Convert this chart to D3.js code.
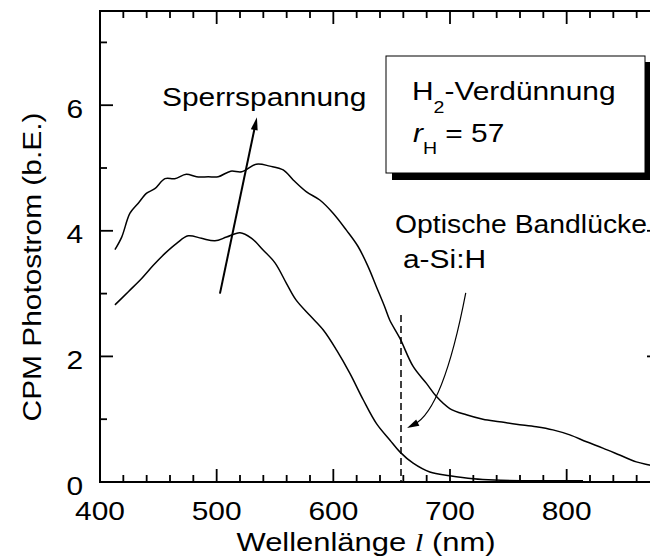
<!DOCTYPE html>
<html>
<head>
<meta charset="utf-8">
<script src="https://cdn.jsdelivr.net/npm/d3@7"></script>
<style>
  html, body { margin: 0; padding: 0; background: #fff; }
  svg { display: block; }
  text { font-family: "Liberation Sans", Arial, Helvetica, sans-serif; fill: #000; }
</style>
</head>
<body>
<svg id="chart" width="650" height="559"></svg>
<script>
// ---------------- data ----------------
const highBiasNm  = [412.8,418.6,425.7,432.8,440,447,455.7,464,474,482.8,492.8,501.3,512,521.4,534,545.6,557,565.6,577,588.4,599.8,611.2,621.2,629.8,636.9,644,648.3,657,668.4,679.8,688.4,699.8,714,728.2,742.5,756.8,773.9,788.2,802.7,817,831,845.4,859.7,871,878];
const highBiasVal = [3.70,3.90,4.28,4.44,4.60,4.67,4.83,4.83,4.90,4.86,4.86,4.86,4.95,4.94,5.06,5.03,4.97,4.81,4.62,4.49,4.28,4.01,3.75,3.43,3.11,2.79,2.58,2.29,1.84,1.57,1.36,1.17,1.07,1.00,0.96,0.92,0.88,0.83,0.75,0.64,0.54,0.43,0.32,0.27,0.24];
const lowBiasNm   = [412.8,424.3,435.7,445.7,455.7,465.7,475.6,487,498.5,508.5,520,530,540,550,559.9,568,580,591.4,602.8,614.2,625.6,637,648.4,657,668.4,682.7,699.8,720,738,780,814];
const lowBiasVal  = [2.82,3.03,3.24,3.45,3.64,3.80,3.92,3.88,3.84,3.90,3.97,3.88,3.69,3.49,3.16,2.90,2.65,2.42,2.10,1.73,1.31,0.93,0.67,0.48,0.30,0.16,0.10,0.05,0.03,0.02,0.02];

const xMajorTicks = [400, 500, 600, 700, 800];
const xMinorTicks = [420,440,460,480,520,540,560,580,620,640,660,680,720,740,760,780,820,840,860];
const yMajorTicks = [0, 2, 4, 6];
const yMinorTicks = [1, 3, 5, 7];

const gapLineNm = 658, gapLineTop = 2.66;                     // dashed line (optical gap)
const biasArrow = {from: [502.8, 3.0], to: [534.5, 5.81]};    // "Sperrspannung" arrow
const gapArrow  = {start: [713.5, 3.01], ctrl: [694.2, 1.15], end: [663.2, 0.86]};

// ---------------- layout ----------------
const L = 100, R = 660, T = 11, B = 482;
const FS = 26, STRETCH = 1.15;
const MAJ = 13, MIN = 7;

const svg = d3.select("#chart");
const x = d3.scaleLinear().domain([400, 880]).range([L, R]);
const y = d3.scaleLinear().domain([0, 7.5]).range([B, T]);

svg.append("defs").append("clipPath").attr("id", "plotclip")
  .append("rect").attr("x", L).attr("y", T).attr("width", R - L).attr("height", B - T);

function stretchText(g, px, py, anchor, sx) {
  return g.append("text")
    .attr("transform", `translate(${px},${py}) scale(${sx || STRETCH},1)`)
    .attr("text-anchor", anchor || "start")
    .attr("font-size", FS);
}

// frame
svg.append("path")
  .attr("d", `M${L},${T}H${R}V${B}H${L}Z`)
  .attr("fill", "none").attr("stroke", "#000").attr("stroke-width", 2);

// ---------------- ticks (inward on all four sides) ----------------
const TW = 1.8;
const tickRects = [];
xMajorTicks.forEach(d => { tickRects.push([x(d) - TW / 2, B - MAJ, TW, MAJ], [x(d) - TW / 2, T, TW, MAJ]); });
xMinorTicks.forEach(d => { tickRects.push([x(d) - TW / 2, B - MIN, TW, MIN], [x(d) - TW / 2, T, TW, MIN]); });
yMajorTicks.forEach(d => { tickRects.push([L, y(d) - TW / 2, MAJ, TW], [R - MAJ, y(d) - TW / 2, MAJ, TW]); });
yMinorTicks.forEach(d => { tickRects.push([L, y(d) - TW / 2, MIN, TW], [R - MIN, y(d) - TW / 2, MIN, TW]); });
svg.append("g").selectAll("rect").data(tickRects).join("rect")
  .attr("x", d => d[0]).attr("y", d => d[1]).attr("width", d => d[2]).attr("height", d => d[3])
  .attr("fill", "#000");

// tick labels
svg.append("g").selectAll("text").data(xMajorTicks).join("text")
  .attr("transform", d => `translate(${x(d)},${B + 38}) scale(${STRETCH},1)`)
  .attr("text-anchor", "middle").attr("font-size", FS).text(d => d);
svg.append("g").selectAll("text").data(yMajorTicks).join("text")
  .attr("transform", d => `translate(${L - 17},${y(d) + 12.5}) scale(${STRETCH},1)`)
  .attr("text-anchor", "end").attr("font-size", FS).text(d => d);

// ---------------- curves ----------------
const line = d3.line().x(d => x(d[0])).y(d => y(d[1])).curve(d3.curveCatmullRom.alpha(0.5));
const plot = svg.append("g").attr("clip-path", "url(#plotclip)");
plot.append("path").datum(d3.zip(highBiasNm, highBiasVal)).attr("d", line)
  .attr("fill", "none").attr("stroke", "#000").attr("stroke-width", 1.5);
plot.append("path").datum(d3.zip(lowBiasNm, lowBiasVal)).attr("d", line)
  .attr("fill", "none").attr("stroke", "#000").attr("stroke-width", 1.5);

// dashed optical gap line
svg.append("line")
  .attr("x1", x(gapLineNm)).attr("x2", x(gapLineNm))
  .attr("y1", y(gapLineTop)).attr("y2", y(0))
  .attr("stroke", "#000").attr("stroke-width", 1.5).attr("stroke-dasharray", "7,4");

// arrowhead helper
function arrowHead(tip, dir, len, half) {
  const n = Math.hypot(dir[0], dir[1]);
  const ux = dir[0] / n, uy = dir[1] / n;
  const bx = tip[0] - ux * len, by = tip[1] - uy * len;
  const pts = [tip, [bx - uy * half, by + ux * half], [bx + uy * half, by - ux * half]];
  svg.append("path").attr("d", "M" + pts.map(p => p.join(",")).join("L") + "Z").attr("fill", "#000");
}

// bias arrow
{
  const p0 = [x(biasArrow.from[0]), y(biasArrow.from[1])];
  const p1 = [x(biasArrow.to[0]), y(biasArrow.to[1])];
  const d = [p1[0] - p0[0], p1[1] - p0[1]];
  const n = Math.hypot(d[0], d[1]);
  svg.append("line").attr("x1", p0[0]).attr("y1", p0[1])
    .attr("x2", p1[0] - d[0] / n * 8).attr("y2", p1[1] - d[1] / n * 8)
    .attr("stroke", "#000").attr("stroke-width", 2);
  arrowHead(p1, d, 13, 3.5);
}

// curved gap arrow
{
  const s = [x(gapArrow.start[0]), y(gapArrow.start[1])];
  const c = [x(gapArrow.ctrl[0]), y(gapArrow.ctrl[1])];
  const e = [x(gapArrow.end[0]), y(gapArrow.end[1])];
  const dir = [e[0] - c[0], e[1] - c[1]];
  const n = Math.hypot(dir[0], dir[1]);
  const e2 = [e[0] - dir[0] / n * 8, e[1] - dir[1] / n * 8];
  svg.append("path").attr("d", `M${s}Q${c} ${e2}`)
    .attr("fill", "none").attr("stroke", "#000").attr("stroke-width", 1.2);
  arrowHead(e, dir, 12, 3.5);
}

// ---------------- labels ----------------
stretchText(svg, 162, 106).text("Sperrspannung");

// legend box with shadow
svg.append("rect").attr("x", 392).attr("y", 62).attr("width", 259).attr("height", 118).attr("fill", "#000");
svg.append("rect").attr("x", 386).attr("y", 56).attr("width", 259).attr("height", 117)
  .attr("fill", "#fff").attr("stroke", "#000").attr("stroke-width", 1);

const t1 = stretchText(svg, 412, 100);
t1.append("tspan").text("H");
t1.append("tspan").attr("font-size", 17).attr("dy", 13).text("2");
t1.append("tspan").attr("dy", -13).text("-Verdünnung");

const t2 = stretchText(svg, 413, 142);
t2.append("tspan").attr("font-style", "italic").text("r");
t2.append("tspan").attr("font-size", 17).attr("dy", 12).text("H");
t2.append("tspan").attr("dy", -12).text(" = 57");

stretchText(svg, 395, 233, "start", 1.09).text("Optische Bandlücke");
stretchText(svg, 403, 268).text("a-Si:H");

// axis titles
svg.append("text")
  .attr("transform", `translate(41,267) rotate(-90) scale(${STRETCH},1)`)
  .attr("text-anchor", "middle").attr("font-size", FS)
  .text("CPM Photostrom (b.E.)");

const xt = stretchText(svg, 366, 551, "middle", 1.19);
xt.append("tspan").text("Wellenlänge ");
xt.append("tspan").attr("font-family", "'Liberation Serif', 'Times New Roman', serif")
  .attr("font-style", "italic").text("l");
xt.append("tspan").text(" (nm)");
</script>
</body>
</html>
